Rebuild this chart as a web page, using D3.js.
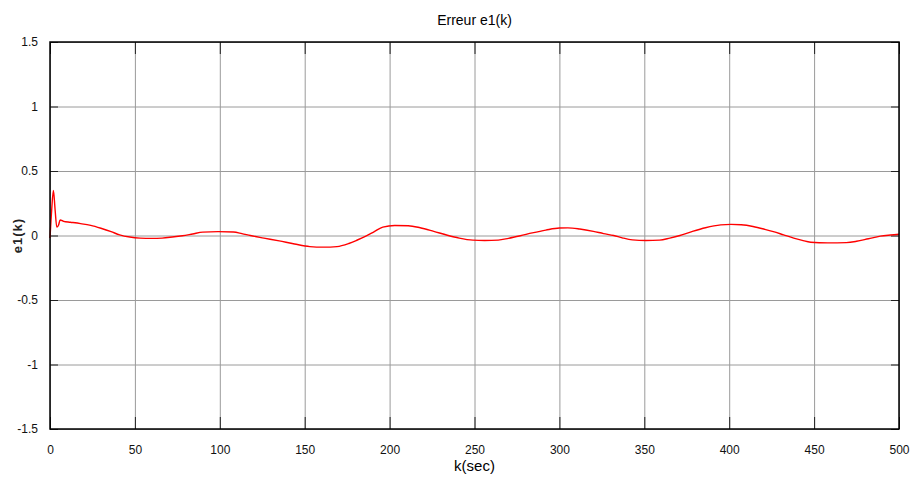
<!DOCTYPE html>
<html>
<head>
<meta charset="utf-8">
<script src="https://cdn.jsdelivr.net/npm/d3@7"></script>
<style>
  body { margin: 0; background: #fff; }
  text { font-family: 'Liberation Sans', Arial, sans-serif; }
</style>
</head>
<body>
<div id="chart"></div>
<script>
// Data
const kValues = [0, 1, 2, 3, 4, 5, 6, 8, 12, 18, 24, 30, 36, 41, 47, 53, 60, 66, 72, 78,
  84, 90, 99, 108, 113, 118, 126, 135, 144, 153, 161, 169, 176, 181, 186, 191, 196, 203,
  211, 218, 226, 234, 241, 249, 256, 264, 270, 277, 284, 292, 300, 305, 312, 320, 326,
  332, 337, 343, 351, 359, 365, 371, 378, 386, 395, 401, 407, 414, 421, 426, 432, 438,
  443, 448, 458, 469, 475, 482, 489, 495, 500]
const e1Values = [-0.02, 0.2, 0.35, 0.2, 0.065, 0.08, 0.12, 0.11, 0.103, 0.092, 0.078,
  0.056, 0.03, 0.005, -0.012, -0.02, -0.022, -0.02, -0.012, -0.002,
  0.012, 0.026, 0.03, 0.027, 0.015, 0.0, -0.02, -0.042, -0.066, -0.086, -0.09, -0.086,
  -0.062, -0.035, -0.005, 0.03, 0.065, 0.078, 0.076, 0.06, 0.032, 0.002, -0.02, -0.036,
  -0.039, -0.036, -0.022, -0.002, 0.02, 0.042, 0.058, 0.059, 0.05, 0.032, 0.015,
  0.0, -0.018, -0.034, -0.039, -0.036, -0.02, 0.0, 0.03, 0.06, 0.082, 0.086, 0.083,
  0.07, 0.048, 0.03, 0.005, -0.02, -0.038, -0.052, -0.057, -0.055, -0.045, -0.025,
  -0.005, 0.004, 0.01]
const xTicks = [0, 50, 100, 150, 200, 250, 300, 350, 400, 450, 500]
const yTicks = [-1.5, -1, -0.5, 0, 0.5, 1, 1.5]

const data = kValues.map((k, i) => ({ k: k, e: e1Values[i] }))

// Dimensions
const width = 914
const height = 477
const margin = { top: 42, right: 15, bottom: 48, left: 50 }
const innerWidth = width - margin.left - margin.right
const innerHeight = height - margin.top - margin.bottom

const svg = d3.select('#chart')
  .append('svg')
  .attr('width', width)
  .attr('height', height)

const g = svg.append('g')
  .attr('transform', `translate(${margin.left}, ${margin.top})`)

const x = d3.scaleLinear().domain([0, 500]).range([0, innerWidth])
const y = d3.scaleLinear().domain([-1.5, 1.5]).range([innerHeight, 0])

// Plain hyphen minus like the original
const fmt = d => String(d)

// Helper for label-less axes (grid and opposite-side ticks)
const bare = (s, color) => {
  s.select('.domain').remove()
  s.selectAll('text').remove()
  s.selectAll('line').attr('stroke', color)
}

// Grid lines
g.append('g')
  .attr('transform', `translate(0, ${innerHeight})`)
  .call(d3.axisBottom(x).tickValues(xTicks).tickSize(-innerHeight))
  .call(bare, '#9a9a9a')

g.append('g')
  .call(d3.axisLeft(y).tickValues(yTicks).tickSize(-innerWidth))
  .call(bare, '#9a9a9a')

// Inner tick marks, labelled on bottom and left
const tickStyle = s => {
  s.select('.domain').remove()
  s.selectAll('line').attr('stroke', '#222')
  s.selectAll('text').attr('font-size', 12).attr('fill', '#111')
}

g.append('g')
  .attr('transform', `translate(0, ${innerHeight})`)
  .call(d3.axisBottom(x).tickValues(xTicks).tickSize(-12).tickPadding(16).tickFormat(fmt))
  .call(tickStyle)

g.append('g')
  .call(d3.axisTop(x).tickValues(xTicks).tickSize(-12))
  .call(bare, '#222')

g.append('g')
  .call(d3.axisLeft(y).tickValues(yTicks).tickSize(-8).tickPadding(12).tickFormat(fmt))
  .call(tickStyle)

g.append('g')
  .attr('transform', `translate(${innerWidth}, 0)`)
  .call(d3.axisRight(y).tickValues(yTicks).tickSize(-8))
  .call(bare, '#222')

// Curve
const line = d3.line()
  .x(d => x(d.k))
  .y(d => y(d.e))
  .curve(d3.curveMonotoneX)

g.append('path')
  .datum(data)
  .attr('fill', 'none')
  .attr('stroke', '#ff0000')
  .attr('stroke-width', 1.4)
  .attr('stroke-linejoin', 'round')
  .attr('d', line)

// Frame
g.append('rect')
  .attr('width', innerWidth)
  .attr('height', innerHeight)
  .attr('fill', 'none')
  .attr('stroke', '#000')
  .attr('stroke-width', 1.5)

// Titles
svg.append('text')
  .attr('x', margin.left + innerWidth / 2)
  .attr('y', 25)
  .attr('text-anchor', 'middle')
  .attr('font-size', 14)
  .text('Erreur e1(k)')

svg.append('text')
  .attr('x', margin.left + innerWidth / 2)
  .attr('y', 471)
  .attr('text-anchor', 'middle')
  .attr('font-size', 15)
  .text('k(sec)')

svg.append('text')
  .attr('transform', `translate(22, ${margin.top + innerHeight / 2}) rotate(-90)`)
  .attr('text-anchor', 'middle')
  .attr('font-size', 13)
  .attr('font-weight', 'bold')
  .attr('letter-spacing', '1')
  .attr('fill', '#222')
  .text('e1(k)')
</script>
</body>
</html>
